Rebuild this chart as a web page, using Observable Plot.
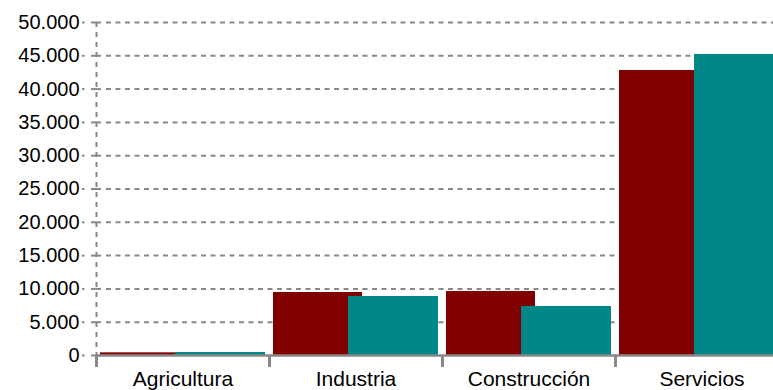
<!DOCTYPE html>
<html><head><meta charset="utf-8">
<script src="https://cdn.jsdelivr.net/npm/d3@7"></script>
<script src="https://cdn.jsdelivr.net/npm/@observablehq/plot@0.6"></script>
<style>html,body{margin:0;padding:0;overflow:hidden;background:#fff} svg{max-width:none !important}</style>
</head><body><div id="chart"></div>
<script>
const categories = ["Agricultura", "Industria", "Construcción", "Servicios"];
const seriesRed = [400, 9460, 9610, 42790];
const seriesTeal = [450, 8860, 7360, 45200];
const yTicks = [0, 5000, 10000, 15000, 20000, 25000, 30000, 35000, 40000, 45000, 50000];

const W = 788, H = 390, ML = 96, MT = 22, MB = 35;
const bw = (W - ML) / categories.length;
const grey = "#888";
const fmt = d => d3.format(",")(d).replace(/,/g, ".");

const rows = categories.map((c, i) => ({cat: c, red: seriesRed[i], teal: seriesTeal[i]}));

const chart = Plot.plot({
  width: W, height: H,
  marginLeft: ML, marginRight: 0, marginTop: MT, marginBottom: MB,
  style: {fontFamily: "'Liberation Sans', Arial, sans-serif", fontSize: "20px", color: "#000", background: "#fff", maxWidth: "none"},
  x: {domain: categories, padding: 0, label: null},
  y: {domain: [0, 50000], label: null},
  marks: [
    Plot.ruleY(yTicks.filter(d => d > 0), {stroke: grey, strokeWidth: 2, strokeDasharray: "5,4.5", insetLeft: 10}),
    Plot.ruleY(yTicks, {stroke: grey, strokeWidth: 2, insetLeft: -5, insetRight: W - ML - 5}),
    Plot.ruleY(yTicks, {stroke: grey, strokeWidth: 2, insetLeft: -14, insetRight: W - ML + 11.5}),
    Plot.ruleX([categories[0]], {x: d => d, dx: -bw / 2, stroke: grey, strokeWidth: 2, strokeDasharray: "5,5"}),
    Plot.barY(rows, {x: "cat", y: "red", fill: "#800000", insetLeft: 4, insetRight: 80}),
    Plot.barY(rows, {x: "cat", y: "teal", fill: "#008888", insetLeft: 79, insetRight: 4}),
    Plot.ruleY([0], {stroke: grey, strokeWidth: 2.5}),
    Plot.ruleX(categories, {x: d => d, dx: -bw / 2, stroke: grey, strokeWidth: 3, insetTop: H - MT - MB, insetBottom: -12}),
    Plot.axisX({tickSize: 0, tickPadding: 16, fill: "#000", fontSize: 21, label: null}),
    Plot.axisY({ticks: yTicks, tickSize: 0, tickPadding: 17, tickFormat: fmt, fill: "#000", label: null})
  ]
});
document.getElementById("chart").appendChild(chart);
</script>
</body></html>
